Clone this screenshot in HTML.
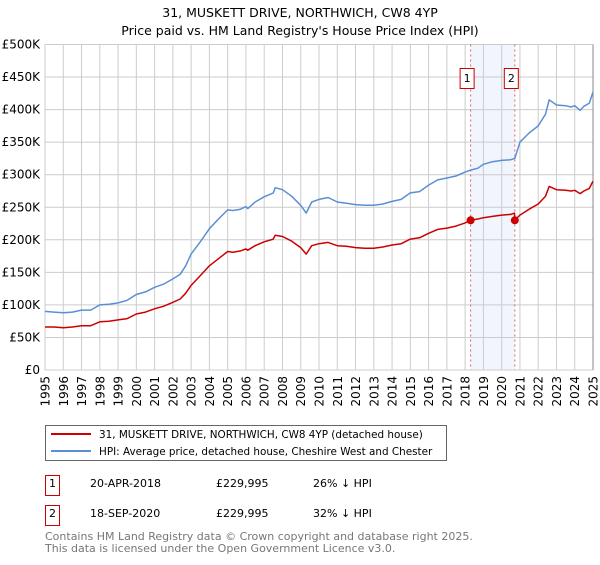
<!DOCTYPE html>
<html><head><meta charset="utf-8"><style>
body{margin:0;background:#fff;font-family:"Liberation Sans","DejaVu Sans",sans-serif;}
svg text{font-family:"DejaVu Sans","Liberation Sans",sans-serif;}
</style></head><body>
<svg width="600" height="560" viewBox="0 0 600 560" xmlns="http://www.w3.org/2000/svg">
<text x="300" y="17" text-anchor="middle" font-size="12.5" fill="#000">31, MUSKETT DRIVE, NORTHWICH, CW8 4YP</text>
<text x="300" y="35" text-anchor="middle" font-size="12.5" fill="#000">Price paid vs. HM Land Registry's House Price Index (HPI)</text>
<g id="grid"></g>
<g id="marks"></g>
<g id="legend">
<rect x="45.5" y="425.5" width="401" height="35" fill="#fff" stroke="#666"/>
<line x1="51" y1="434" x2="91" y2="434" stroke="#cc0000" stroke-width="2"/>
<text x="99" y="438" font-size="10.4">31, MUSKETT DRIVE, NORTHWICH, CW8 4YP (detached house)</text>
<line x1="51" y1="451" x2="91" y2="451" stroke="#5b8fd4" stroke-width="2"/>
<text x="99" y="455" font-size="10.4">HPI: Average price, detached house, Cheshire West and Chester</text>
</g>
<g font-size="11">
<rect x="45.5" y="475.5" width="14" height="20" fill="#fff" stroke="#cc0000"/>
<text x="52.5" y="487" text-anchor="middle">1</text>
<text x="90" y="487">20-APR-2018</text>
<text x="216" y="487">£229,995</text>
<text x="313" y="487">26% ↓ HPI</text>
<rect x="45.5" y="505.5" width="14" height="20" fill="#fff" stroke="#cc0000"/>
<text x="52.5" y="517" text-anchor="middle">2</text>
<text x="90" y="517">18-SEP-2020</text>
<text x="216" y="517">£229,995</text>
<text x="313" y="517">32% ↓ HPI</text>
</g>
<text x="45" y="540" font-size="11" fill="#777">Contains HM Land Registry data © Crown copyright and database right 2025.</text>
<text x="45" y="552" font-size="11" fill="#777">This data is licensed under the Open Government Licence v3.0.</text>
</svg>
<script>
const hpiYears=[1995,1995.5,1996,1996.5,1997,1997.5,1998,1998.5,1999,1999.5,2000,2000.5,2001,2001.5,2002,2002.4,2002.7,2003,2003.5,2004,2004.5,2005,2005.3,2005.7,2006,2006.1,2006.5,2007,2007.5,2007.6,2008,2008.5,2009,2009.3,2009.6,2010,2010.5,2011,2011.5,2012,2012.5,2013,2013.5,2014,2014.5,2015,2015.5,2016,2016.5,2017,2017.5,2018,2018.3,2018.7,2019,2019.5,2020,2020.5,2020.72,2021,2021.5,2022,2022.4,2022.6,2023,2023.5,2023.8,2024,2024.3,2024.5,2024.8,2025];
const hpiValues=[90,89,88,89,92,92,100,101,103,107,116,120,127,132,140,147,160,178,197,217,232,246,245,247,251,248,258,266,272,280,277,267,253,241,258,262,265,258,256,254,253,253,255,259,262,272,274,284,292,295,298,304,307,310,316,320,322,323,325,350,364,375,393,415,407,406,404,406,399,405,410,427];
const propYears=[1995,1995.5,1996,1996.5,1997,1997.5,1998,1998.5,1999,1999.5,2000,2000.5,2001,2001.5,2002,2002.4,2002.7,2003,2003.5,2004,2004.5,2005,2005.3,2005.7,2006,2006.1,2006.5,2007,2007.5,2007.6,2008,2008.5,2009,2009.3,2009.6,2010,2010.5,2011,2011.5,2012,2012.5,2013,2013.5,2014,2014.5,2015,2015.5,2016,2016.5,2017,2017.5,2018,2018.3,2018.7,2019,2019.5,2020,2020.5,2020.7,2020.72,2021,2021.5,2022,2022.4,2022.6,2023,2023.5,2023.8,2024,2024.3,2024.5,2024.8,2025];
const propValues=[66,66,65,66,68,68,74,75,77,79,86,89,94,98,104,109,118,130,145,160,171,182,181,183,186,184,191,197,201,207,205,198,188,178,191,194,196,191,190,188,187,187,189,192,194,201,203,210,216,218,221,226,230,232,234,236,238,239,241,230,238,247,255,267,282,277,276,275,276,271,275,279,290];
const saleYears=[2018.3,2020.72];
const saleValues=[229995,229995];
const yTicks=[0,50000,100000,150000,200000,250000,300000,350000,400000,450000,500000];
const yTickLabels=["£0","£50K","£100K","£150K","£200K","£250K","£300K","£350K","£400K","£450K","£500K"];
const xTicks=[1995,1996,1997,1998,1999,2000,2001,2002,2003,2004,2005,2006,2007,2008,2009,2010,2011,2012,2013,2014,2015,2016,2017,2018,2019,2020,2021,2022,2023,2024,2025];

const X0=45,X1=593,Y0=370,Y1=44.5;
const xs=y=>X0+(y-1995)/(2025-1995)*(X1-X0);
const ys=v=>Y0-v/500000*(Y0-Y1);
const NS="http://www.w3.org/2000/svg";
function mk(tag,attrs,parent){const e=document.createElementNS(NS,tag);for(const k in attrs)e.setAttribute(k,attrs[k]);parent.appendChild(e);return e;}
const grid=document.getElementById('grid'),marks=document.getElementById('marks');
const band=mk('rect',{x:xs(saleYears[0]),y:Y1,width:xs(saleYears[1])-xs(saleYears[0]),height:Y0-Y1,fill:'#eef3fc',opacity:0.8},grid);


yTicks.forEach((t,i)=>{
  const l=mk('line',{x1:X0,x2:X1,y1:ys(t),y2:ys(t),stroke:'#cccccc','stroke-width':1},grid);
  
  
  const tx=mk('text',{x:40,y:ys(t)+4,'text-anchor':'end','font-size':12,fill:'#000'},grid);
  tx.textContent=yTickLabels[i];
  
  
});
xTicks.forEach(t=>{
  const l=mk('line',{x1:xs(t),x2:xs(t),y1:Y1,y2:Y0,stroke:'#cccccc','stroke-width':1},grid);
  
  
  const tx=mk('text',{x:0,y:0,'text-anchor':'end','font-size':12,fill:'#000',transform:`translate(${xs(t)+4.5},376) rotate(-90)`},grid);
  tx.textContent=String(t);
  
  
});
const edge=mk('line',{x1:X1,x2:X1,y1:Y1,y2:Y0,stroke:'#888','stroke-width':1},grid);


saleYears.forEach((s,i)=>{
  const l=mk('line',{x1:xs(s),x2:xs(s),y1:Y1,y2:Y0,stroke:'#e06060','stroke-width':1,'stroke-dasharray':'2,3'},marks);
  
  
});
function path(xsArr,vals,color,name){
  const d=xsArr.map((y,i)=>(i?'L':'M')+xs(y).toFixed(1)+','+ys(vals[i]*1000).toFixed(1)).join('');
  const p=mk('path',{d:d,fill:'none',stroke:color,'stroke-width':1.5,'stroke-linejoin':'round'},marks);
  
  
}
path(hpiYears,hpiValues,'#5b8fd4','hpi-line');
path(propYears,propValues,'#cc0000','property-line');
saleYears.forEach((s,i)=>{
  const c=mk('circle',{cx:xs(s),cy:ys(saleValues[i]),r:4,fill:'#cc0000'},marks);
  
  
  const r=mk('rect',{x:xs(s)-10.5,y:68.5,width:14,height:20,fill:'#fff',stroke:'#cc0000'},marks);
  
  
  const t=mk('text',{x:xs(s)-3.5,y:82,'text-anchor':'middle','font-size':11},marks);
  t.textContent=String(i+1);
  
  
});
</script>
</body></html>
